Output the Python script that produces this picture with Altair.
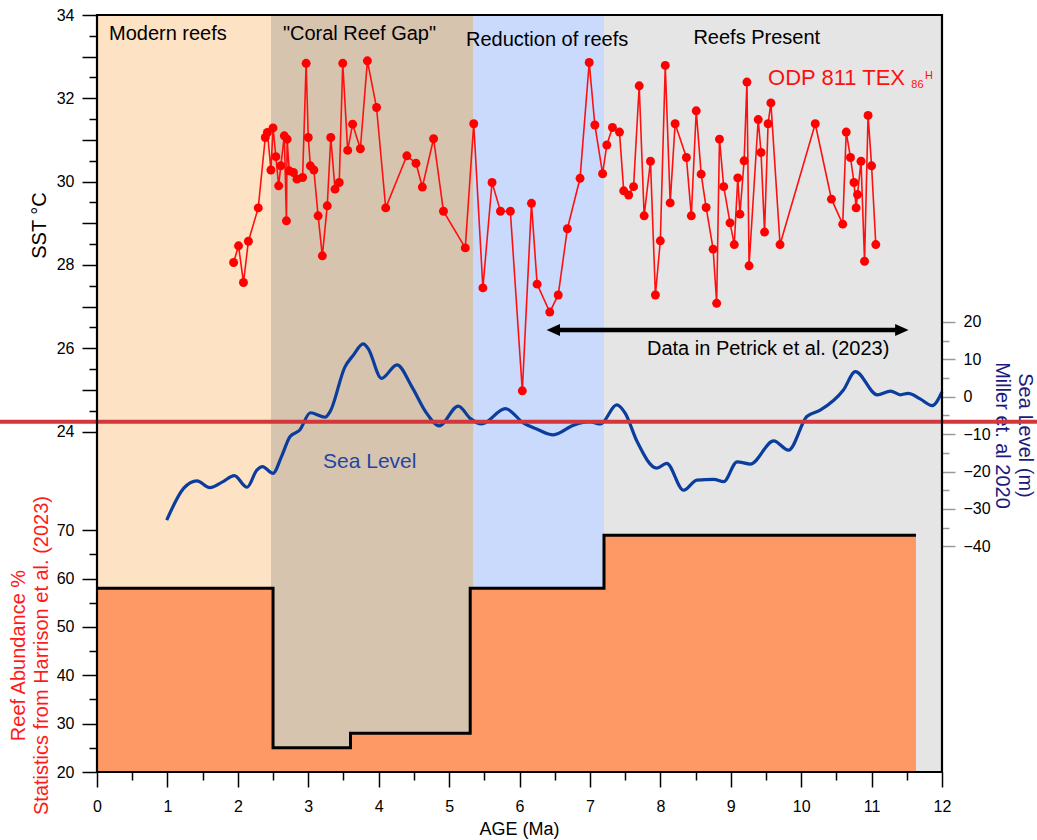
import altair as alt
import pandas as pd

W, H = 845, 757
FONT = "Liberation Sans"

# ---------------- data ----------------
band_start = [0, 2.47, 5.35, 7.2]
band_end = [2.47, 5.35, 7.2, 12]
band_color = ["#FDE2C4", "#D7C4AE", "#C9DAFC", "#E5E5E5"]
band_label = ["Modern reefs", "\"Coral Reef Gap\"", "Reduction of reefs", "Reefs Present"]
band_label_age = [0.17, 2.64, 5.24, 8.47]
band_label_sst = [33.54, 33.54, 33.40, 33.45]

reef_age = [0, 2.5, 3.6, 5.3, 7.2, 11.63]
reef_pct = [58, 25, 28, 58, 69, 69]

sst_age = [1.94, 2.01, 2.08, 2.15, 2.29, 2.39, 2.42, 2.47, 2.50, 2.54, 2.58, 2.61, 2.66, 2.69, 2.70,
           2.73, 2.79, 2.84, 2.92, 2.97, 3.00, 3.03, 3.08, 3.14, 3.20, 3.27, 3.32, 3.38, 3.44, 3.49,
           3.56, 3.63, 3.74, 3.84, 3.97, 4.10, 4.40, 4.53, 4.62, 4.78, 4.92, 5.23, 5.35, 5.48, 5.61,
           5.73, 5.87, 6.04, 6.17, 6.25, 6.43, 6.55, 6.68, 6.86, 6.99, 7.07, 7.18, 7.24, 7.32, 7.42,
           7.48, 7.55, 7.62, 7.70, 7.77, 7.86, 7.93, 8.00, 8.07, 8.14, 8.21, 8.37, 8.44, 8.51, 8.58,
           8.65, 8.75, 8.80, 8.84, 8.90, 8.99, 9.05, 9.10, 9.13, 9.19, 9.23, 9.26, 9.39, 9.43, 9.48,
           9.53, 9.57, 9.70, 10.20, 10.43, 10.59, 10.64, 10.70, 10.75, 10.78, 10.80, 10.85, 10.90,
           10.95, 11.00, 11.06]
sst_val = [28.06, 28.46, 27.58, 28.57, 29.37, 31.06, 31.18, 30.28, 31.29, 30.60, 29.90, 30.38, 31.10,
           29.06, 31.02, 30.26, 30.22, 30.06, 30.10, 32.84, 31.06, 30.38, 30.28, 29.18, 28.22, 29.42,
           31.06, 29.82, 29.98, 32.84, 30.75, 31.38, 30.79, 32.90, 31.78, 29.37, 30.62, 30.44, 29.87,
           31.03, 29.29, 28.41, 31.39, 27.45, 29.98, 29.29, 29.29, 24.98, 29.48, 27.54, 26.87, 27.28,
           28.87, 30.08, 32.86, 31.36, 30.19, 30.88, 31.30, 31.19, 29.78, 29.68, 29.88, 32.30, 29.18,
           30.49, 27.28, 28.58, 32.79, 29.49, 31.39, 30.58, 29.18, 31.70, 30.18, 29.38, 28.38, 27.08,
           31.02, 29.88, 29.01, 28.49, 30.09, 29.22, 30.50, 32.39, 27.98, 31.49, 30.70, 28.79, 31.39,
           31.89, 28.49, 31.39, 29.58, 28.98, 31.19, 30.58, 29.98, 29.37, 29.69, 30.49, 28.09, 31.59,
           30.38, 28.49]

sl_age = [0.99, 1.23, 1.42, 1.60, 1.79, 1.95, 2.13, 2.27, 2.35, 2.50, 2.62, 2.74, 2.88, 3.03, 3.24,
          3.31, 3.52, 3.64, 3.78, 3.85, 4.04, 4.26, 4.47, 4.68, 4.86, 5.13, 5.30, 5.46, 5.80, 6.06,
          6.25, 6.48, 6.77, 7.00, 7.15, 7.38, 7.50, 7.67, 7.95, 8.09, 8.33, 8.52, 8.76, 8.90, 9.09,
          9.28, 9.61, 9.82, 10.08, 10.27, 10.60, 10.77, 11.08, 11.27, 11.41, 11.52, 11.69, 11.86, 12.0]
sl_val = [-33.0, -24.5, -22.5, -24.3, -22.7, -21.1, -24.2, -19.6, -18.7, -20.5, -16.0, -10.7, -8.9,
          -4.3, -5.5, -4.0, 7.9, 11.1, 14.1, 12.9, 4.9, 8.5, 2.7, -4.4, -7.8, -2.5, -5.8, -7.3, -3.2,
          -7.1, -8.7, -10.2, -7.6, -6.7, -7.3, -2.2, -4.4, -12.0, -19.1, -17.8, -25.0, -22.3, -22.1,
          -22.7, -17.4, -18.0, -11.8, -14.3, -5.3, -3.6, 1.8, 6.7, 0.5, 1.5, 0.5, 0.9, -0.6, -2.4, 1.3]

red_rule_sl = [-6.7]
arrow_age = [6.39, 11.52]
arrow_sst = [26.44]

x_ticks = [i * 0.5 for i in range(25)]
sst_ticks = [24 + i * 0.5 for i in range(21)]
reef_ticks = [20 + i * 5 for i in range(11)]
sl_ticks = [-40 + i * 5 for i in range(13)]

# ---------------- tables ----------------
bands = pd.DataFrame({"age": band_start, "age2": band_end, "color": band_color})
band_txt = pd.DataFrame({"age": band_label_age, "sst": band_label_sst, "label": band_label})
reef = pd.DataFrame({"age": reef_age, "reef": reef_pct})
sst = pd.DataFrame({"age": sst_age, "sst": sst_val})
sl = pd.DataFrame({"age": sl_age, "sl": sl_val})
rule_df = pd.DataFrame({"sl": red_rule_sl})
arrow_line = pd.DataFrame({"age": [arrow_age[0] + 0.09], "age2": [arrow_age[1] - 0.09], "sst": arrow_sst})
arrow_heads = pd.DataFrame({"age": [arrow_age[0] + 0.09, arrow_age[1] - 0.09],
                            "sst": arrow_sst * 2, "dir": ["L", "R"]})

# ---------------- scales / axes ----------------
xscale = alt.Scale(domain=[0, 12], nice=False, zero=False)
sst_scale = alt.Scale(domain=[15.83, 34], nice=False, zero=False)
reef_scale = alt.Scale(domain=[20, 176.6], nice=False, zero=False)
sl_scale = alt.Scale(domain=[-100.3, 102], nice=False, zero=False)

common = dict(grid=False, domain=False, labelFont=FONT, labelFontSize=16, labelColor="black",
              titleFont=FONT, titleFontWeight="normal", labelOverlap=False, labelFlush=False)

x_axis = alt.Axis(values=x_ticks, title="AGE (Ma)", titleFontSize=18, titleColor="black",
                  titleX=422, titleY=57, titleBaseline="middle", titleAlign="center",
                  labelExpr="datum.value % 1 === 0 ? format(datum.value, 'd') : ''",
                  tickSize={"condition": {"test": "datum.value % 1 === 0", "value": 15}, "value": 8},
                  tickColor="black", tickWidth=1.5, labelPadding=11, **common)


def X(field="age"):
    return alt.X(f"{field}:Q", scale=xscale, axis=x_axis)


sst_axis = alt.Axis(values=sst_ticks, orient="left", title="SST °C", titleFontSize=20,
                    titleColor="black", titleX=-58, titleY=210, titleAngle=270,
                    titleAlign="center", titleBaseline="middle",
                    labelExpr="datum.value % 2 === 0 ? format(datum.value, 'd') : ''",
                    tickSize={"condition": {"test": "datum.value % 1 === 0", "value": 15}, "value": 8},
                    tickColor="black", tickWidth=1.5, labelPadding=8, **common)

reef_axis = alt.Axis(values=reef_ticks, orient="left",
                     title=["Reef Abundance %", "Statistics from Harrison et al. (2023)"],
                     titleFontSize=20, titleColor="#FF1A1A", titleLineHeight=23,
                     titleX=-79, titleY=640, titleAngle=270,
                     titleAlign="center", titleBaseline="middle",
                     labelExpr="datum.value % 10 === 0 ? format(datum.value, 'd') : ''",
                     tickSize={"condition": {"test": "datum.value % 10 === 0", "value": 15}, "value": 8},
                     tickColor="black", tickWidth=1.5, labelPadding=8, **common)

sl_axis = alt.Axis(values=sl_ticks, orient="right",
                   title=["Sea Level (m)", "Miller et. al 2020"],
                   titleFontSize=20, titleColor="#1B1B7E", titleLineHeight=23,
                   titleX=82, titleY=420, titleAngle=90,
                   titleAlign="center", titleBaseline="middle",
                   labelExpr="datum.value % 10 === 0 ? format(datum.value, 'd') : ''",
                   tickSize={"condition": {"test": "datum.value % 10 === 0", "value": 13}, "value": 7},
                   tickColor="#9A9A9A", tickWidth=1.5, labelPadding=8, **common)

# ---------------- layers ----------------
band_layer = alt.Chart(bands).mark_rect().encode(
    x=X(), x2="age2:Q", y=alt.value(0), y2=alt.value(H),
    color=alt.Color("color:N", scale=None))

reef_area = alt.Chart(reef).mark_area(interpolate="step-after", color="#FE9966", opacity=1).encode(
    x=X(), y=alt.Y("reef:Q", scale=reef_scale, axis=reef_axis), y2=alt.Y2(datum=20))

reef_line = alt.Chart(reef).mark_line(interpolate="step-after", color="black", strokeWidth=3).encode(
    x=X(), y=alt.Y("reef:Q", scale=reef_scale, axis=None))

sl_line = alt.Chart(sl).mark_line(interpolate="monotone", color="#0B3D9E", strokeWidth=3.2).encode(
    x=X(), y=alt.Y("sl:Q", scale=sl_scale, axis=sl_axis))

sst_line = alt.Chart(sst).mark_line(color="#FF1010", strokeWidth=1.6).encode(
    x=X(), y=alt.Y("sst:Q", scale=sst_scale, axis=sst_axis))
sst_pts = alt.Chart(sst).mark_circle(color="#FF0000", size=80, opacity=1).encode(
    x=X(), y=alt.Y("sst:Q", scale=sst_scale, axis=None))

red_rule = alt.Chart(rule_df).mark_rule(color="#D3373B", strokeWidth=4).encode(
    x=alt.value(-97), x2=alt.value(W + 95), y=alt.Y("sl:Q", scale=sl_scale, axis=None))

arr_line = alt.Chart(arrow_line).mark_rule(color="black", strokeWidth=4.5).encode(
    x=X(), x2="age2:Q", y=alt.Y("sst:Q", scale=sst_scale, axis=None))
arr_left = alt.Chart(arrow_heads[arrow_heads.dir == "L"]).mark_point(
    shape="M-1,0L1,-0.9L1,0.9Z", size=180, filled=True, color="black", opacity=1).encode(
    x=X(), y=alt.Y("sst:Q", scale=sst_scale, axis=None))
arr_right = alt.Chart(arrow_heads[arrow_heads.dir == "R"]).mark_point(
    shape="M1,0L-1,-0.9L-1,0.9Z", size=180, filled=True, color="black", opacity=1).encode(
    x=X(), y=alt.Y("sst:Q", scale=sst_scale, axis=None))


def text_layer(df, color, size, align="left", baseline="middle"):
    return alt.Chart(df).mark_text(font=FONT, fontSize=size, color=color, align=align,
                                   baseline=baseline).encode(
        x=X(), y=alt.Y("sst:Q", scale=sst_scale, axis=None), text="label:N")


band_texts = text_layer(band_txt, "black", 20)
odp = text_layer(pd.DataFrame({"age": [9.53], "sst": [32.32], "label": ["ODP 811 TEX"]}),
                 "#FF1010", 22, baseline="alphabetic")
odp_sub = text_layer(pd.DataFrame({"age": [11.565], "sst": [32.25], "label": ["86"]}),
                     "#FF1010", 11, baseline="alphabetic")
odp_sup = text_layer(pd.DataFrame({"age": [11.76], "sst": [32.47], "label": ["H"]}),
                     "#FF1010", 11, baseline="alphabetic")
sea_txt = text_layer(pd.DataFrame({"age": [3.21], "sst": [23.27], "label": ["Sea Level"]}),
                     "#1F45A6", 21)
pet_txt = text_layer(pd.DataFrame({"age": [7.81], "sst": [25.98], "label": ["Data in Petrick et al. (2023)"]}),
                     "black", 20)

frame = alt.Chart(pd.DataFrame({"a": [0]})).mark_rect(
    filled=False, stroke="black", strokeWidth=2.2).encode(
    x=alt.value(0), x2=alt.value(W), y=alt.value(0), y2=alt.value(H))

chart = alt.layer(
    band_layer, reef_area, reef_line, sl_line, sst_line, sst_pts, red_rule,
    arr_line, arr_left, arr_right, band_texts, odp, odp_sub, odp_sup, sea_txt, pet_txt, frame
).resolve_scale(y="independent").properties(
    width=W, height=H,
    autosize=alt.AutoSizeParams(type="none"),
    padding={"left": 97, "top": 15, "right": 95, "bottom": 68},
).configure_view(stroke=None).configure(background="white")

chart.save("out.html", embed_options={"renderer": "svg", "actions": False})
